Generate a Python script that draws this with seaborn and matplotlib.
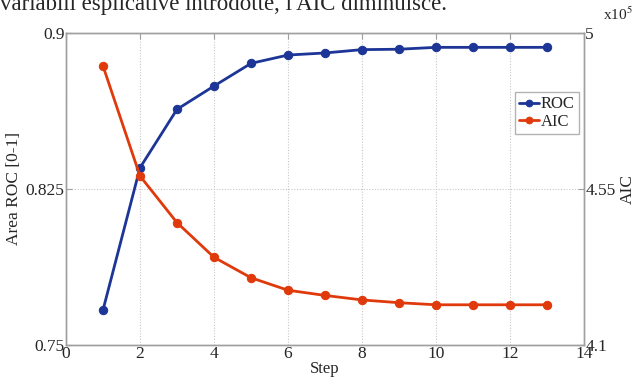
import matplotlib
matplotlib.use("Agg")
import matplotlib.pyplot as plt
import seaborn as sns
import pandas as pd

steps = [1, 2, 3, 4, 5, 6, 7, 8, 9, 10, 11, 12, 13]
roc = [0.7668, 0.8352, 0.8633, 0.8745, 0.8854, 0.8894, 0.8904, 0.8920, 0.8922, 0.8931, 0.8931, 0.8931, 0.8931]
aic = [4.905, 4.5875, 4.453, 4.353, 4.294, 4.258, 4.243, 4.230, 4.222, 4.216, 4.216, 4.216, 4.216]
x_ticks = [0, 2, 4, 6, 8, 10, 12, 14]
left_ticks = [0.75, 0.825, 0.9]
right_ticks = [4.1, 4.55, 5]

sns.set_style("white")
plt.rcParams['font.family'] = ['Liberation Serif', 'DejaVu Serif']
plt.rcParams['mathtext.fontset'] = 'stix'

blue = "#1c3596"
red = "#e03a0c"
edge = "#a0a0a0"

fig = plt.figure(figsize=(6.37, 3.78), dpi=100)
ax = fig.add_axes([0.1036, 0.0873, 0.8132, 0.8254])
ax2 = ax.twinx()

df = pd.DataFrame({"Step": steps, "ROC": roc, "AIC": aic})

sns.lineplot(data=df, x="Step", y="ROC", ax=ax, color=blue, marker="o",
             markersize=6, markeredgecolor=blue, linewidth=2, label="ROC", legend=False)
sns.lineplot(data=df, x="Step", y="AIC", ax=ax2, color=red, marker="o",
             markersize=6, markeredgecolor=red, linewidth=2, label="AIC", legend=False)

ax.set_xlim(0, 14)
ax.set_ylim(0.75, 0.9)
ax2.set_ylim(4.1, 5)
ax.set_xticks(x_ticks)
ax.set_xticklabels([str(t) for t in x_ticks])
ax.set_yticks(left_ticks)
ax.set_yticklabels(["0.75", "0.825", "0.9"])
ax2.set_yticks(right_ticks)
ax2.set_yticklabels(["4.1", "4.55", "5"])

ax.grid(True, axis="both", linestyle=(0, (1, 1.5)), color="#c8c8c8", linewidth=0.8)
ax.set_axisbelow(True)

for a in (ax, ax2):
    for s in a.spines.values():
        s.set_color(edge)
        s.set_linewidth(1.0)
    a.tick_params(direction="in", length=4, color=edge, labelsize=12.5, pad=1)
ax.tick_params(top=True, right=False)
ax2.tick_params(right=True, left=False)

ax.set_xlabel("Step", fontsize=12, labelpad=-1)
ax.set_ylabel("Area ROC [0-1]", fontsize=12.5, labelpad=3)
ax2.set_ylabel("AIC", fontsize=12.5, rotation=90, labelpad=3)

fig.text(0.946, 0.947, r"x10$^5$", fontsize=11, ha="left", va="baseline")
fig.text(0.0, 1 - 10/378, "variabili esplicative introdotte, l'AIC diminuisce.",
         fontsize=16.5, ha="left", va="baseline")

h1, l1 = ax.get_legend_handles_labels()
h2, l2 = ax2.get_legend_handles_labels()
leg = ax2.legend(h1 + h2, l1 + l2, loc="upper right", bbox_to_anchor=(0.99, 0.81),
                 fancybox=False, frameon=True, fontsize=12, handlelength=1.2,
                 handletextpad=0.1, borderpad=0.25, labelspacing=0.1, borderaxespad=0,
                 markerscale=0.8)
leg.get_frame().set_edgecolor(edge)
leg.get_frame().set_linewidth(1.0)

fig.savefig("out.png", dpi=100)
